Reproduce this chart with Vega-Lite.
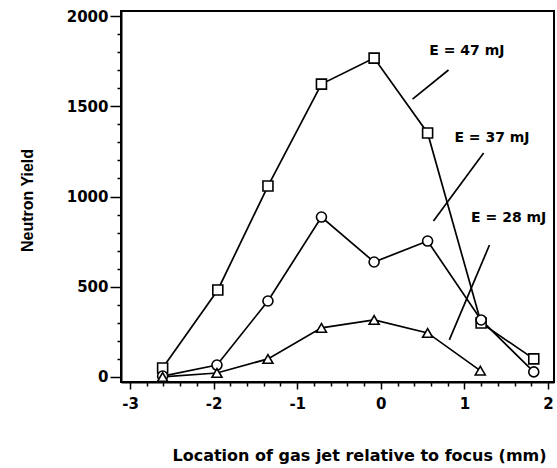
{
  "$schema": "https://vega.github.io/schema/vega-lite/v6.json",
  "width": 433,
  "height": 371,
  "autosize": "none",
  "padding": {"left": 121, "top": 11, "right": 3, "bottom": 86},
  "background": "white",
  "config": {
    "font": "DejaVu Sans",
    "view": {"stroke": "black", "strokeWidth": 2},
    "axis": {"labelOverlap": false, "labelFlush": false, "grid": false}
  },
  "datasets": {
    "yield": [
      {"energy": "47 mJ", "x": -2.61, "y": 50},
      {"energy": "47 mJ", "x": -1.95, "y": 482},
      {"energy": "47 mJ", "x": -1.35, "y": 1058},
      {"energy": "47 mJ", "x": -0.71, "y": 1623},
      {"energy": "47 mJ", "x": -0.08, "y": 1767},
      {"energy": "47 mJ", "x": 0.56, "y": 1352},
      {"energy": "47 mJ", "x": 1.2, "y": 299},
      {"energy": "47 mJ", "x": 1.83, "y": 100},
      {"energy": "37 mJ", "x": -2.61, "y": 5},
      {"energy": "37 mJ", "x": -1.96, "y": 66},
      {"energy": "37 mJ", "x": -1.35, "y": 421},
      {"energy": "37 mJ", "x": -0.71, "y": 886},
      {"energy": "37 mJ", "x": -0.08, "y": 637},
      {"energy": "37 mJ", "x": 0.56, "y": 753},
      {"energy": "37 mJ", "x": 1.2, "y": 316},
      {"energy": "37 mJ", "x": 1.83, "y": 28},
      {"energy": "28 mJ", "x": -2.61, "y": 0},
      {"energy": "28 mJ", "x": -1.96, "y": 22},
      {"energy": "28 mJ", "x": -1.35, "y": 100},
      {"energy": "28 mJ", "x": -0.71, "y": 272},
      {"energy": "28 mJ", "x": -0.08, "y": 316},
      {"energy": "28 mJ", "x": 0.56, "y": 244},
      {"energy": "28 mJ", "x": 1.19, "y": 35}
    ],
    "leaders": [
      {"x": 0.81, "y": 1701, "x2": 0.38, "y2": 1540},
      {"x": 1.23, "y": 1241, "x2": 0.63, "y2": 864},
      {"x": 1.3, "y": 731, "x2": 0.82, "y2": 205}
    ],
    "labels": [
      {"text": "E = 47 mJ", "x": 1.03, "y": 1806},
      {"text": "E = 37 mJ", "x": 1.33, "y": 1324},
      {"text": "E = 28 mJ", "x": 1.53, "y": 881}
    ]
  },
  "encoding": {
    "x": {
      "field": "x",
      "type": "quantitative",
      "scale": {"domain": [-3.108, 2.072], "nice": false, "zero": false},
      "axis": {
        "title": "Location of gas jet relative to focus (mm)",
        "values": [-3, -2.8, -2.6, -2.4, -2.2, -2, -1.8, -1.6, -1.4, -1.2, -1, -0.8, -0.6, -0.4, -0.2, 0, 0.2, 0.4, 0.6, 0.8, 1, 1.2, 1.4, 1.6, 1.8, 2],
        "labelExpr": "abs(datum.value % 1) < 0.001 ? toString(datum.value) : ''",
        "domainColor": "black",
        "domainWidth": 2,
        "tickColor": "black",
        "tickWidth": 1.5,
        "tickSize": {"condition": {"test": "abs(datum.value % 1) < 0.001", "value": 7}, "value": 4},
        "labelColor": "black",
        "labelFont": "DejaVu Sans",
        "labelFontWeight": "bold",
        "labelFontSize": 15,
        "labelPadding": 7,
        "titleColor": "black",
        "titleFont": "DejaVu Sans",
        "titleFontWeight": "bold",
        "titleFontSize": 16,
        "titleX": 238,
        "titleY": 78,
        "titleBaseline": "alphabetic"
      }
    },
    "y": {
      "field": "y",
      "type": "quantitative",
      "scale": {"domain": [-28, 2028], "nice": false, "zero": false},
      "axis": {
        "title": "Neutron Yield",
        "values": [0, 100, 200, 300, 400, 500, 600, 700, 800, 900, 1000, 1100, 1200, 1300, 1400, 1500, 1600, 1700, 1800, 1900, 2000],
        "labelExpr": "datum.value % 500 === 0 ? toString(datum.value) : ''",
        "domainColor": "black",
        "domainWidth": 2,
        "tickColor": "black",
        "tickWidth": 1.5,
        "tickSize": {"condition": {"test": "datum.value % 500 === 0", "value": 11}, "value": 4},
        "labelColor": "black",
        "labelFont": "DejaVu Sans",
        "labelFontWeight": "bold",
        "labelFontSize": 15,
        "labelPadding": 2,
        "titleColor": "black",
        "titleFont": "Liberation Sans",
        "titleFontWeight": "bold",
        "titleFontSize": 16,
        "titleAngle": 270,
        "titleX": -94,
        "titleY": 189,
        "titleAlign": "center",
        "titleBaseline": "middle"
      }
    }
  },
  "layer": [
    {
      "data": {"name": "yield"},
      "mark": {"type": "line", "color": "black", "strokeWidth": 1.7},
      "encoding": {"detail": {"field": "energy"}}
    },
    {
      "data": {"name": "yield"},
      "mark": {"type": "point", "filled": true, "fill": "white", "stroke": "black", "strokeWidth": 1.6, "opacity": 1},
      "encoding": {
        "shape": {
          "field": "energy",
          "type": "nominal",
          "scale": {"domain": ["47 mJ", "37 mJ", "28 mJ"], "range": ["square", "circle", "triangle-up"]},
          "legend": null
        },
        "size": {
          "field": "energy",
          "type": "nominal",
          "scale": {"domain": ["47 mJ", "37 mJ", "28 mJ"], "range": [100, 100, 80]},
          "legend": null
        }
      }
    },
    {
      "data": {"name": "leaders"},
      "mark": {"type": "rule", "color": "black", "strokeWidth": 1.7},
      "encoding": {
        "x2": {"field": "x2"},
        "y2": {"field": "y2"}
      }
    },
    {
      "data": {"name": "labels"},
      "mark": {"type": "text", "font": "DejaVu Sans", "fontWeight": "bold", "fontSize": 14, "color": "black", "align": "center", "baseline": "middle"},
      "encoding": {
        "text": {"field": "text"}
      }
    }
  ]
}
